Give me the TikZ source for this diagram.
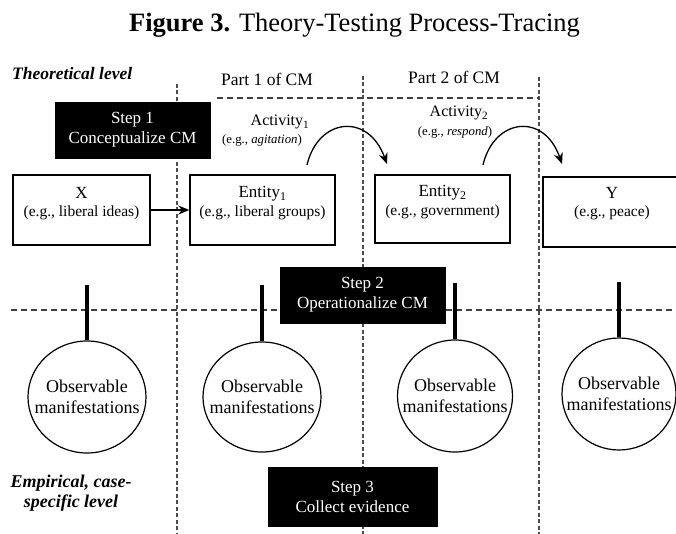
\documentclass[tikz,border=0pt]{standalone}
\usepackage{fontspec}
\setmainfont{Liberation Serif}
\usetikzlibrary{arrows.meta,shapes.geometric}
\begin{document}
\begin{tikzpicture}[x=1pt,y=-1pt,
  vdash/.style={draw=black!70, line width=1.1pt, dash pattern=on 4pt off 2.5pt},
  hdash/.style={draw=black!75, line width=1.1pt, dash pattern=on 6pt off 4pt},
  stepbox/.style={fill=black, draw=black, text=white, font=\fontsize{17}{20}\selectfont, align=center, inner sep=0pt},
  entbox/.style={draw=black, line width=1.4pt, fill=white, inner sep=0pt},
  entname/.style={font=\fontsize{17}{20}\selectfont, inner sep=0pt},
  entex/.style={font=\fontsize{15.5}{18}\selectfont, inner sep=0pt},
  obs/.style={ellipse, draw=black, line width=1.2pt, fill=white, inner sep=0pt},
  obstext/.style={font=\fontsize{18}{21}\selectfont, align=center, inner sep=0pt},
  pinline/.style={line width=4pt, draw=black},
  flow/.style={line width=1.4pt, -{Stealth[length=11pt,width=9pt]}},
  curv/.style={line width=1.3pt, -{Stealth[length=11pt,width=9pt]}},
  lvl/.style={font=\fontsize{18}{20}\selectfont\bfseries\itshape, align=center},
]
\useasboundingbox (0,0) rectangle (676,534);
\fill[white] (0,0) rectangle (676,534);

% title
\node[anchor=base, font=\fontsize{26.5}{30}\selectfont, inner sep=0pt] (title) at (354.5,32)
  {\textbf{Figure 3.} Theory-Testing Process-Tracing};

% level labels
\node[anchor=base west, font=\fontsize{17.5}{20}\selectfont\bfseries\itshape, inner sep=0pt] (theo) at (12,80) {Theoretical level};
\node[lvl, inner sep=0pt] (emp) at (71,493) {Empirical, case-\\specific level};

% part labels
\node[anchor=base, font=\fontsize{17.5}{20}\selectfont, inner sep=0pt] (part1) at (267,86) {Part 1 of CM};
\node[anchor=base, font=\fontsize{17.5}{20}\selectfont, inner sep=0pt] (part2) at (454,84) {Part 2 of CM};

% dashed grid
\coordinate (v1t) at (177,84);  \coordinate (v1b) at (177,534);
\coordinate (v2t) at (363,76);  \coordinate (v2b) at (363,534);
\coordinate (v3t) at (539,77);  \coordinate (v3b) at (539,534);
\draw[vdash] (v1t) -- (v1b);
\draw[vdash] (v2t) -- (v2b);
\draw[vdash] (v3t) -- (v3b);
\coordinate (h1l) at (217,98);  \coordinate (h1r) at (539,98);
\draw[hdash] (h1l) -- (h1r);
\coordinate (h2l) at (11,310);  \coordinate (h2m) at (280,310);
\coordinate (h2n) at (446,310); \coordinate (h2r) at (676,310);
\draw[hdash] (h2l) -- (h2m);
\draw[hdash] (h2n) -- (h2r);

% step boxes
\node[stepbox, minimum width=155pt, minimum height=56pt] (s1) at (132.5,130) {Step 1\\Conceptualize CM};
\node[stepbox, minimum width=165pt, minimum height=56pt] (s2) at (362.5,295) {Step 2\\Operationalize CM};
\node[stepbox, minimum width=169pt, minimum height=59pt] (s3) at (352.5,497) {Step 3\\Collect evidence};

% activities
\node[font=\fontsize{16}{18}\selectfont, inner sep=0pt] (act1) at (280,122) {Activity\textsubscript{1}};
\node[font=\fontsize{12.8}{14}\selectfont, inner sep=0pt] (act1e) at (262,140) {(e.g., \textit{agitation})};
\node[font=\fontsize{16}{18}\selectfont, inner sep=0pt] (act2) at (459,113) {Activity\textsubscript{2}};
\node[font=\fontsize{12.8}{14}\selectfont, inner sep=0pt] (act2e) at (455,132) {(e.g., \textit{respond})};

% entity boxes
\node[entbox, minimum width=137pt, minimum height=70pt] (X) at (81.5,210) {};
\node[entbox, minimum width=145pt, minimum height=70pt] (E1) at (262.5,210) {};
\node[entbox, minimum width=135pt, minimum height=68pt] (E2) at (442.5,209) {};
\node[entbox, minimum width=138pt, minimum height=70pt] (Y) at (612,212) {};

\node[entname] (Xn) at (81.5,193) {X};
\node[entex] (Xe) at (81.5,213) {(e.g., liberal ideas)};
\node[entname] (E1n) at (262.5,194) {Entity\textsubscript{1}};
\node[entex] (E1e) at (262.5,213) {(e.g., liberal groups)};
\node[entname] (E2n) at (442.5,193) {Entity\textsubscript{2}};
\node[entex] (E2e) at (442.5,212) {(e.g., government)};
\node[entname] (Yn) at (612,193) {Y};
\node[entex] (Ye) at (612,213) {(e.g., peace)};

\draw[flow] (X) -- (E1);

% curved arrows
\coordinate (a1s) at (307,165); \coordinate (a1e) at (387,164);
\coordinate (a2s) at (483,165); \coordinate (a2e) at (562,164);
\draw[curv] (a1s) .. controls (318,118) and (368,112) .. (a1e);
\draw[curv] (a2s) .. controls (494,118) and (544,112) .. (a2e);

% observable manifestations
\node[obs, minimum width=118pt, minimum height=112pt] (c1) at (87,397) {};
\node[obs, minimum width=118pt, minimum height=110pt] (c2) at (262,397) {};
\node[obs, minimum width=115pt, minimum height=112pt] (c3) at (455,396) {};
\node[obs, minimum width=114pt, minimum height=112pt] (c4) at (619,394) {};
\foreach \c in {c1,c2,c3,c4}{
  \node[obstext] (\c t) at (\c) {Observable\\manifestations};
}
\coordinate (p1) at (87,285);
\coordinate (p2) at (262,285);
\coordinate (p3) at (455,283);
\coordinate (p4) at (619,282);
\draw[pinline] (p1) -- (c1.north);
\draw[pinline] (p2) -- (c2.north);
\draw[pinline] (p3) -- (c3.north);
\draw[pinline] (p4) -- (c4.north);
\end{tikzpicture}
\end{document}
